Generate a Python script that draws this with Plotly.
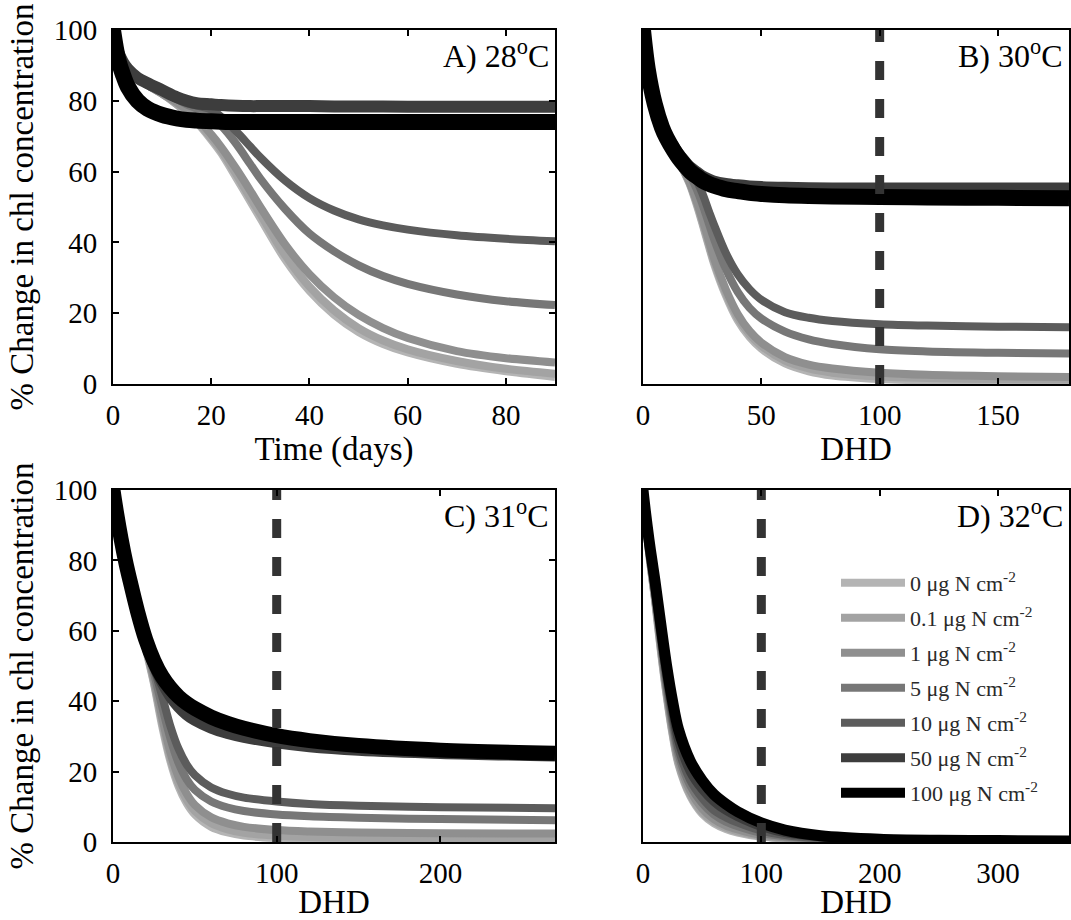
import plotly.graph_objects as go

# ---------------- data ----------------
series_labels = ["0 μg N cm<sup>-2</sup>", "0.1 μg N cm<sup>-2</sup>", "1 μg N cm<sup>-2</sup>",
                 "5 μg N cm<sup>-2</sup>", "10 μg N cm<sup>-2</sup>", "50 μg N cm<sup>-2</sup>",
                 "100 μg N cm<sup>-2</sup>"]
colors = ["#b4b4b4", "#a3a3a3", "#8f8f8f", "#777777", "#5c5c5c", "#3d3d3d", "#000000"]

# Panel A: 28 C, time (days)
xA = [0, 1, 2, 3, 5, 7, 10, 13, 15, 17, 20, 22, 25, 28, 30, 35, 40, 45, 50, 55, 60, 70, 80, 90]
yA = [
    [100, 94, 91, 89, 86.5, 84.5, 82, 79, 76.5, 74, 69, 65.3, 58.5, 51.5, 46.8, 35.3, 26.3, 19.6, 14.7, 11.3, 8.9, 5.7, 3.6, 2.0],
    [100, 94, 91, 89, 86.5, 84.5, 82, 79, 76.8, 74.3, 69.5, 66, 59.5, 52.5, 48, 36.5, 27.5, 20.8, 15.8, 12.3, 9.8, 6.5, 4.3, 2.9],
    [100, 94, 91, 89, 86.5, 84.5, 82, 79.5, 77.5, 75.2, 70.5, 67, 61, 54.5, 50, 39.5, 31, 24.5, 19.5, 15.8, 13, 9.3, 7.3, 6.1],
    [100, 94, 91, 89, 86.5, 85, 83, 80.5, 79, 77.8, 75.5, 73, 68, 62, 58, 49.5, 42.5, 37.5, 33.5, 30.5, 28.3, 25.3, 23.4, 22.3],
    [100, 94, 91, 89, 86.5, 85, 83, 80.5, 79.3, 78.7, 77.5, 75.5, 71.5, 67, 64, 57.5, 52.5, 49, 46.5, 44.8, 43.6, 42, 41, 40.3],
    [100, 94, 91, 89, 86.5, 85, 83, 81, 80, 79.3, 79, 78.8, 78.6, 78.5, 78.5, 78.5, 78.5, 78.4, 78.4, 78.4, 78.3, 78.3, 78.3, 78.3],
    [100, 92, 87.5, 84, 80, 77.8, 76, 75, 74.6, 74.4, 74.2, 74.1, 74, 74, 74, 74, 74, 74, 74, 74, 74, 74, 74, 74],
]

# Panel B: 30 C, DHD
xB = [0, 2, 5, 8, 10, 13, 15, 18, 20, 23, 25, 28, 30, 35, 40, 45, 50, 60, 70, 80, 100, 120, 150, 180]
yB = [
    [100, 89, 79.5, 73, 70, 65.5, 63, 59, 56, 50, 45.5, 38.5, 34, 25, 18, 13.3, 10, 5.8, 3.6, 2.4, 1.4, 1.0, 0.8, 0.7],
    [100, 89, 79.5, 73, 70, 65.5, 63, 59.2, 56.3, 50.5, 46, 39, 34.6, 25.7, 18.8, 14.1, 10.8, 6.6, 4.4, 3.2, 2.1, 1.7, 1.4, 1.3],
    [100, 89, 79.5, 73, 70, 66, 63.5, 59.5, 56.5, 51, 46.8, 40, 35.5, 26.7, 19.8, 15, 11.7, 7.6, 5.5, 4.4, 3.2, 2.6, 2.2, 2.0],
    [100, 89.5, 80, 73.5, 70.5, 67, 65, 61.5, 59, 54.5, 51, 45, 41, 32.5, 26, 21.5, 18.5, 14.8, 12.6, 11.3, 9.8, 9.2, 8.8, 8.6],
    [100, 89.5, 80, 73.5, 70.5, 67.5, 65.5, 62.5, 60.5, 57, 54, 48.5, 45, 37, 31, 26.8, 23.8, 20.3, 18.7, 17.8, 16.9, 16.5, 16.2, 16.0],
    [100, 89.5, 80, 73.5, 70.5, 67.5, 65.5, 63, 61.5, 60, 59, 58, 57.5, 56.8, 56.4, 56.1, 55.9, 55.7, 55.6, 55.5, 55.5, 55.5, 55.5, 55.5],
    [100, 89, 79, 72.5, 69.5, 66, 64, 61.5, 60, 58.5, 57.5, 56.5, 56, 55, 54.5, 54, 53.7, 53.3, 53.1, 53, 52.8, 52.7, 52.6, 52.5],
]

# Panel C: 31 C, DHD
xC = [0, 2, 5, 8, 10, 15, 20, 25, 30, 35, 40, 45, 50, 60, 70, 80, 100, 120, 150, 200, 270]
yC = [
    [100, 94, 86, 79, 75, 65, 55, 45, 33, 23, 15.8, 11, 7.8, 4.3, 2.7, 1.8, 1.1, 0.7, 0.5, 0.4, 0.3],
    [100, 94, 86, 79, 75, 65, 55.5, 45.5, 34, 24, 16.8, 12, 8.8, 5.3, 3.6, 2.6, 1.8, 1.4, 1.2, 1.0, 1.0],
    [100, 94, 86, 79, 75, 65, 56, 46.5, 35.5, 25.5, 18.5, 13.7, 10.5, 7, 5.3, 4.3, 3.4, 3.0, 2.7, 2.5, 2.4],
    [100, 94, 86, 79, 75, 65.5, 56.5, 48, 38.5, 29.5, 22.5, 17.8, 14.8, 11.5, 9.8, 8.8, 7.8, 7.3, 6.9, 6.5, 6.2],
    [100, 94, 86, 79, 75, 65.5, 57, 49.5, 41.5, 33, 26.5, 22, 19, 15.5, 13.7, 12.6, 11.5, 10.8, 10.3, 9.9, 9.6],
    [100, 94, 86, 79, 75, 65.5, 57, 50.5, 45.5, 41.5, 38.5, 36.3, 34.7, 32.5, 31, 29.9, 28.3, 27.2, 26.2, 25.3, 24.6],
    [100, 94, 86, 79, 75, 65.5, 57.5, 51.5, 47, 43.8, 41.3, 39.4, 37.9, 35.5, 33.7, 32.3, 30.2, 28.8, 27.4, 26.1, 25.2],
]

# Panel D: 32 C, DHD
xD = [0, 2, 5, 8, 10, 15, 20, 25, 30, 40, 50, 60, 70, 80, 100, 120, 150, 200, 250, 300, 360]
yD = [
    [100, 92.5, 82.5, 74.5, 69, 54.5, 41.5, 30.5, 22, 13, 8, 5.3, 3.7, 2.7, 1.5, 1.0, 0.6, 0.4, 0.3, 0.3, 0.3],
    [100, 92.5, 82.5, 74.5, 69.5, 55, 42, 31, 22.5, 13.5, 8.5, 5.8, 4.1, 3.0, 1.7, 1.1, 0.7, 0.4, 0.3, 0.3, 0.3],
    [100, 92.5, 83, 75, 70, 56, 43, 32, 23.5, 14.5, 9.5, 6.5, 4.7, 3.6, 2.0, 1.3, 0.8, 0.5, 0.3, 0.3, 0.3],
    [100, 93, 83.5, 76, 71, 57, 44, 33.5, 25, 16, 11, 7.8, 5.8, 4.5, 2.6, 1.6, 0.9, 0.5, 0.4, 0.3, 0.3],
    [100, 93, 84, 76.5, 71.5, 58, 45.5, 35, 26.5, 17.5, 12.5, 9, 7, 5.5, 3.2, 2.0, 1.1, 0.6, 0.4, 0.3, 0.3],
    [100, 93.5, 85, 78, 73, 60, 48, 37.5, 29, 20, 15, 11.5, 9, 7.2, 4.4, 2.7, 1.5, 0.7, 0.5, 0.4, 0.3],
    [100, 94, 86, 79, 74.5, 62, 50, 40, 32, 23, 17.5, 13.5, 10.8, 8.6, 5.4, 3.4, 1.8, 0.8, 0.5, 0.4, 0.3],
]

panel_labels = ["A) 28<sup>o</sup>C", "B) 30<sup>o</sup>C", "C) 31<sup>o</sup>C", "D) 32<sup>o</sup>C"]
x_titles = ["Time (days)", "DHD", "DHD", "DHD"]
x_ranges = [[0, 90], [0, 180], [0, 270], [0, 360]]
x_dticks = [20, 50, 100, 100]
threshold_dhd = 100
y_title = "% Change in chl concentration"

# ---------------- style ----------------
W, H = 1071, 920
FONT = "Liberation Serif, Times New Roman, serif"
line_widths = [
    [8, 8, 8, 8, 8, 12, 16],
    [8, 8, 8, 8, 8, 10, 16],
    [8, 8, 8, 8, 8, 12, 15],
    [8, 8, 8, 8, 8, 9, 11],
]
legend_rows_px = [583, 618, 653, 688, 723, 758, 793]

fig = go.Figure()
panels = [(xA, yA), (xB, yB), (xC, yC), (xD, yD)]
axis_ids = [("x", "y"), ("x2", "y2"), ("x3", "y3"), ("x4", "y4")]

for p, ((xs, ys), (xa, ya)) in enumerate(zip(panels, axis_ids)):
    for i in range(len(ys)):
        tr = dict(
            x=xs, y=ys[i], mode="lines", xaxis=xa, yaxis=ya,
            line=dict(color=colors[i], width=line_widths[p][i], shape="spline", smoothing=0.9),
            name=series_labels[i], showlegend=(p == 3), hoverinfo="skip")
        if p == 3:
            tr["legend"] = "legend" if i == 0 else "legend%d" % (i + 1)
        fig.add_trace(go.Scatter(**tr))
    if p > 0:
        fig.add_trace(go.Scatter(
            x=[threshold_dhd, threshold_dhd], y=[0, 100], mode="lines", xaxis=xa, yaxis=ya,
            line=dict(color="#333333", width=9, dash="19px,19px"),
            showlegend=False, hoverinfo="skip"))


def fx(px):
    return px / W


def fy(py):
    return 1 - py / H


x_domains = [[fx(113), fx(555)], [fx(643), fx(1069)], [fx(113), fx(555)], [fx(643), fx(1069)]]
y_domains = [[fy(384), fy(30)], [fy(384), fy(30)], [fy(842), fy(490)], [fy(842), fy(490)]]

axis_common = dict(showline=True, linecolor="black", linewidth=2, mirror="ticks",
                   ticks="inside", ticklen=6, tickwidth=1.5, tickcolor="black",
                   showgrid=False, zeroline=False, automargin=False,
                   tickfont=dict(family=FONT, size=29, color="black"))

for p in range(4):
    sfx = "" if p == 0 else str(p + 1)
    fig.layout["xaxis" + sfx] = dict(
        axis_common, domain=x_domains[p], range=x_ranges[p], dtick=x_dticks[p], tick0=0,
        anchor="y" + sfx, ticklabelstandoff=4,
        title=dict(text=x_titles[p], font=dict(family=FONT, size=33, color="black"), standoff=0))
    yax = dict(axis_common, domain=y_domains[p], range=[0, 100], dtick=20, tick0=0,
               anchor="x" + sfx, ticklabelstandoff=8)
    if p in (0, 2):
        yax["title"] = dict(text=y_title, font=dict(family=FONT, size=33, color="black"), standoff=10)
    else:
        yax["showticklabels"] = False
        yax["ticks"] = ""
    fig.layout["yaxis" + sfx] = yax

for p in range(4):
    sfx = "" if p == 0 else str(p + 1)
    fig.add_annotation(
        text=panel_labels[p], xref=("x" + sfx + " domain"), yref=("y" + sfx + " domain"),
        x=1, y=1, xanchor="right", yanchor="top", xshift=-4, yshift=-2, showarrow=False,
        font=dict(family=FONT, size=32, color="black"))

layout_legends = {}
for i, row in enumerate(legend_rows_px):
    key = "legend" if i == 0 else "legend%d" % (i + 1)
    layout_legends[key] = dict(
        x=fx(836), y=fy(row), xanchor="left", yanchor="middle",
        bgcolor="rgba(0,0,0,0)", borderwidth=0, itemwidth=64,
        font=dict(family=FONT, size=22, color="#2a2a2a"))

fig.update_layout(
    width=W, height=H, margin=dict(l=0, r=0, t=0, b=0, autoexpand=False),
    paper_bgcolor="white", plot_bgcolor="white",
    showlegend=True, **layout_legends)

fig.write_html("out.html")
